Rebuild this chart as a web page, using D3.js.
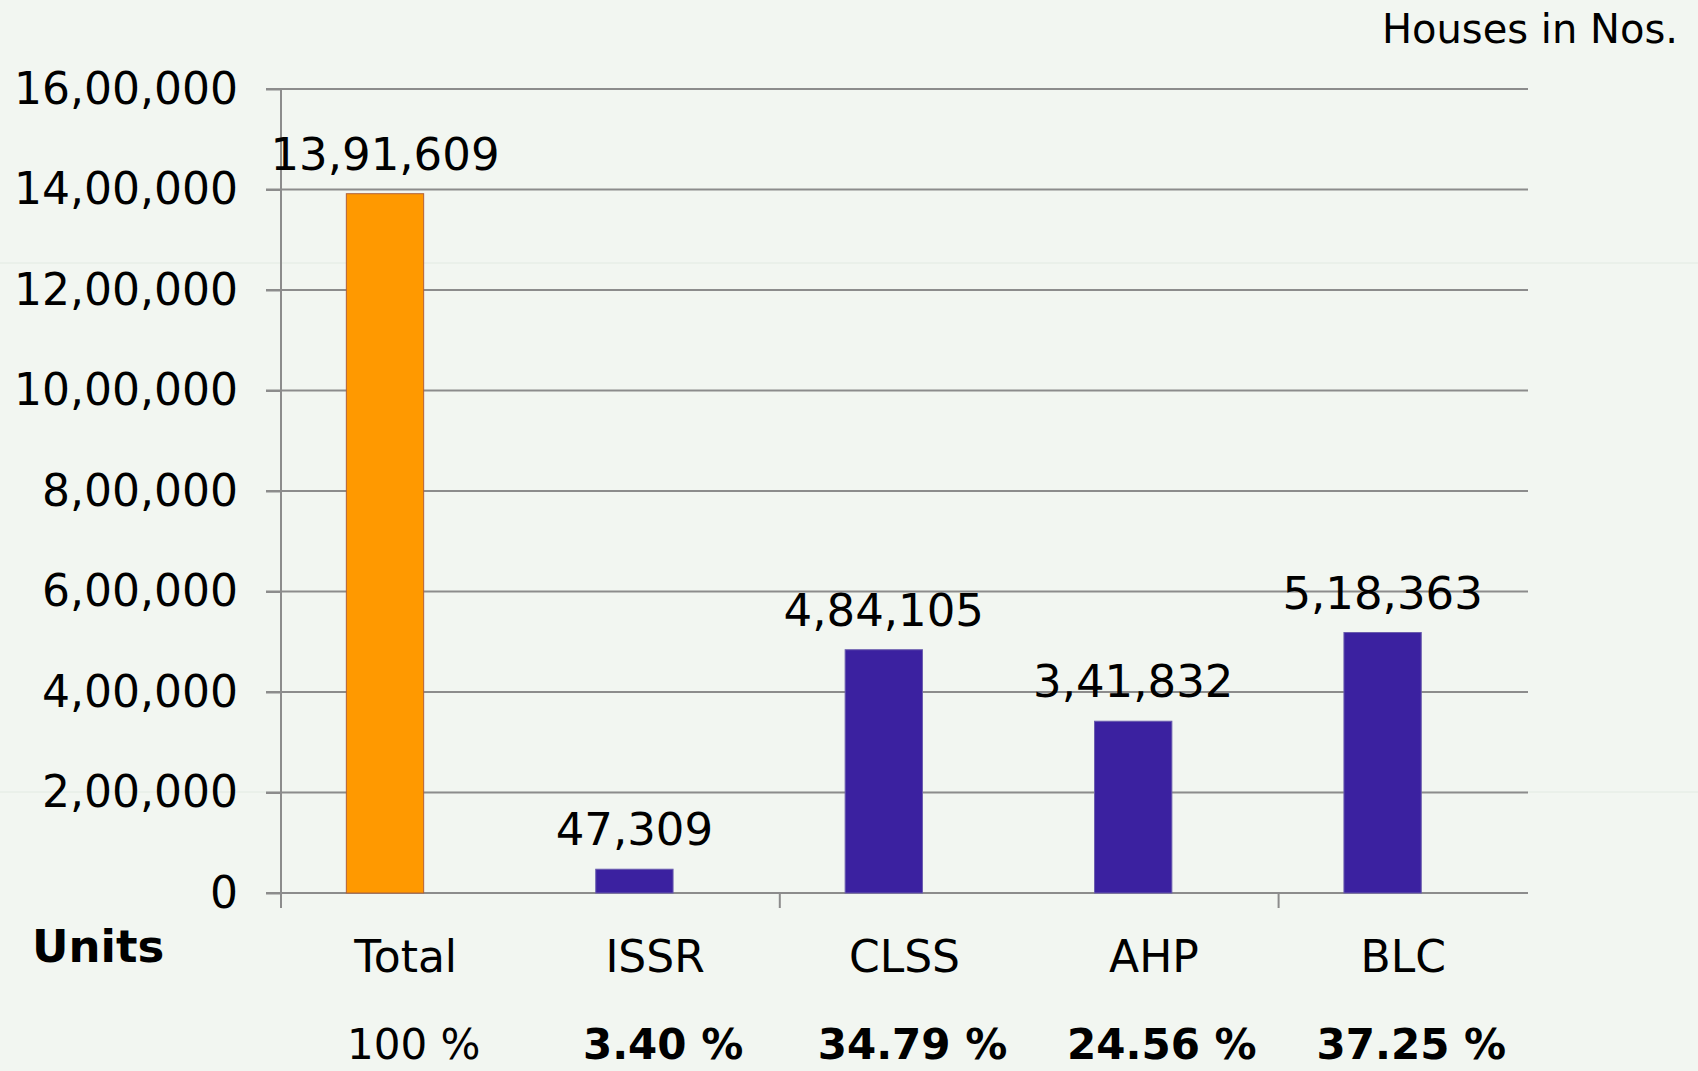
<!DOCTYPE html>
<html>
<head>
<meta charset="utf-8">
<script src="https://cdn.jsdelivr.net/npm/d3@7"></script>
<style>
	body { margin: 0; background: #f2f6f1; }
	svg { display: block; }
	text { font-family: "DejaVu Sans", sans-serif; fill: #000; }
</style>
</head>
<body>
<div id="chart"></div>
<script>
// chart data
const categories = ['Total', 'ISSR', 'CLSS', 'AHP', 'BLC'];
const units = [1391609, 47309, 484105, 341832, 518363];
const shareLabels = ['100 %', '3.40 %', '34.79 %', '24.56 %', '37.25 %'];
const shareBold = [false, true, true, true, true];
const yTicks = [0, 200000, 400000, 600000, 800000, 1000000, 1200000, 1400000, 1600000];
const barColors = ['#ff9900', '#3b21a0', '#3b21a0', '#3b21a0', '#3b21a0'];

class UnitsChart {

	constructor(_config) {
		this.config = {
			parentElement: _config.parentElement,
			containerWidth: 1698,
			containerHeight: 1071,
			margin: { top: 89, right: 170, bottom: 178, left: 281 }
		}
		this.initVis();
	}

	initVis() {
		let vis = this;

		vis.width = vis.config.containerWidth - vis.config.margin.left - vis.config.margin.right;
		vis.height = vis.config.containerHeight - vis.config.margin.top - vis.config.margin.bottom;

		vis.svg = d3.select(vis.config.parentElement).append('svg')
			.attr('width', vis.config.containerWidth)
			.attr('height', vis.config.containerHeight);

		vis.svg.append('rect')
			.attr('width', vis.config.containerWidth)
			.attr('height', vis.config.containerHeight)
			.attr('fill', '#f2f6f1');

		// faint slide lines in the background
		vis.svg.selectAll('.faint')
			.data([263, 792])
			.join('line')
			.attr('x1', 0).attr('x2', vis.config.containerWidth)
			.attr('y1', d => d).attr('y2', d => d)
			.attr('stroke', '#e2eae2')
			.attr('stroke-width', 1);

		vis.chart = vis.svg.append('g')
			.attr('transform', `translate(${vis.config.margin.left}, ${vis.config.margin.top})`);

		vis.xScale = d3.scaleBand()
			.domain(categories)
			.range([0, vis.width]);

		vis.yScale = d3.scaleLinear()
			.domain([0, 1600000])
			.range([vis.height, 0]);

		// indian style number grouping
		const fmtIN = v => v.toLocaleString('en-IN');

		// gridlines
		vis.chart.append('g')
			.selectAll('line')
			.data(yTicks.slice(1))
			.join('line')
			.attr('x1', -15).attr('x2', vis.width)
			.attr('y1', d => vis.yScale(d)).attr('y2', d => vis.yScale(d))
			.attr('stroke', '#8c8c8c')
			.attr('stroke-width', 2);

		// y axis
		const yAxis = d3.axisLeft(vis.yScale)
			.tickValues(yTicks)
			.tickSize(15)
			.tickPadding(28)
			.tickFormat(fmtIN);

		const yAxisGroup = vis.chart.append('g')
			.attr('class', 'axis y-axis')
			.call(yAxis);
		yAxisGroup.select('.domain').attr('stroke', '#8c8c8c').attr('stroke-width', 2)
			.attr('d', `M0,0V${vis.height + 15}`);
		yAxisGroup.selectAll('.tick line').attr('stroke', '#8c8c8c').attr('stroke-width', 2);
		yAxisGroup.selectAll('text')
			.attr('font-size', 44)
			.attr('font-family', '"DejaVu Sans", sans-serif')
			.attr('fill', '#000');

		// x axis baseline
		vis.chart.append('line')
			.attr('x1', -15).attr('x2', vis.width)
			.attr('y1', vis.height).attr('y2', vis.height)
			.attr('stroke', '#8c8c8c')
			.attr('stroke-width', 2);

		// tick marks every second category
		vis.chart.append('g')
			.selectAll('line')
			.data([categories[2], categories[4]])
			.join('line')
			.attr('x1', d => vis.xScale(d)).attr('x2', d => vis.xScale(d))
			.attr('y1', vis.height).attr('y2', vis.height + 15)
			.attr('stroke', '#8c8c8c')
			.attr('stroke-width', 2);

		vis.barWidth = vis.xScale.bandwidth() * 0.31;
		vis.barShift = vis.xScale.bandwidth() * 0.083;

		// bars
		vis.chart.selectAll('.bar')
			.data(categories)
			.join('rect')
			.attr('class', 'bar')
			.attr('x', d => vis.xScale(d) + vis.xScale.bandwidth() / 2 - vis.barShift - vis.barWidth / 2)
			.attr('width', vis.barWidth)
			.attr('y', (d, i) => vis.yScale(units[i]))
			.attr('height', (d, i) => vis.height - vis.yScale(units[i]))
			.attr('fill', (d, i) => barColors[i])
			.attr('stroke', (d, i) => i === 0 ? '#b0603a' : '#6a5cae')
			.attr('stroke-width', 1);

		// value labels
		vis.chart.selectAll('.val')
			.data(categories)
			.join('text')
			.attr('class', 'val')
			.attr('x', d => vis.xScale(d) + vis.xScale.bandwidth() / 2 - vis.barShift)
			.attr('y', (d, i) => vis.yScale(units[i]) - 24)
			.attr('text-anchor', 'middle')
			.attr('font-size', 45)
			.text((d, i) => fmtIN(units[i]));

		// category labels
		vis.chart.selectAll('.cat')
			.data(categories)
			.join('text')
			.attr('class', 'cat')
			.attr('x', d => vis.xScale(d) + vis.xScale.bandwidth() / 2)
			.attr('y', vis.height + 79)
			.attr('text-anchor', 'middle')
			.attr('font-size', 44)
			.text(d => d);

		// share row
		vis.chart.selectAll('.share')
			.data(categories)
			.join('text')
			.attr('class', 'share')
			.attr('x', d => vis.xScale(d) + vis.xScale.bandwidth() / 2 + 8)
			.attr('y', vis.height + 166)
			.attr('text-anchor', 'middle')
			.attr('font-size', 42)
			.attr('font-weight', (d, i) => shareBold[i] ? 'bold' : 'normal')
			.text((d, i) => shareLabels[i]);

		// Units label
		vis.svg.append('text')
			.attr('x', 32)
			.attr('y', 962)
			.attr('font-size', 45)
			.attr('font-weight', 'bold')
			.text('Units');

		// unit note
		vis.svg.append('text')
			.attr('x', 1678)
			.attr('y', 43)
			.attr('text-anchor', 'end')
			.attr('font-size', 40)
			.text('Houses in Nos.');
	}
}

new UnitsChart({ parentElement: '#chart' });
</script>
</body>
</html>
